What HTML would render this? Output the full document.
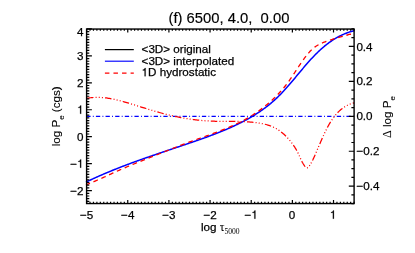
<!DOCTYPE html>
<html><head><meta charset="utf-8"><title>plot</title><style>html,body{margin:0;padding:0;background:#fff;width:415px;height:253px;overflow:hidden;font-family:"Liberation Sans",sans-serif}</style></head><body>
<svg width="415" height="253" viewBox="0 0 415 253" style="display:block;position:absolute;left:0;top:0;will-change:transform">
<rect width="415" height="253" fill="#fff"/>
<g fill="none" stroke-linecap="butt" stroke-linejoin="round">
<path d="M85.91 182.13L86.83 181.69L87.75 181.25L88.67 180.81L89.58 180.38L90.50 179.95L91.42 179.52L92.34 179.09L93.26 178.67L94.18 178.25L95.10 177.83L96.02 177.41L96.94 177.00L97.86 176.59L98.78 176.18L99.70 175.77L100.62 175.37L101.54 174.97L102.47 174.57L103.39 174.17L104.31 173.78L105.23 173.38L106.15 172.99L107.08 172.60L108.00 172.22L108.92 171.83L109.84 171.45L110.77 171.07L111.69 170.69L112.61 170.32L113.54 169.94L114.46 169.57L115.39 169.20L116.31 168.83L117.24 168.47L118.16 168.10L119.09 167.74L120.01 167.38L120.94 167.02L121.86 166.66L122.79 166.30L123.72 165.95L124.64 165.60L125.57 165.24L126.50 164.89L127.43 164.54L128.35 164.20L129.28 163.85L130.21 163.51L131.14 163.16L132.07 162.82L133.00 162.48L133.93 162.14L134.86 161.80L135.79 161.47L136.72 161.13L137.65 160.79L138.58 160.46L139.51 160.13L140.44 159.80L141.37 159.47L142.30 159.14L143.24 158.81L144.17 158.48L145.10 158.15L146.04 157.82L146.97 157.50L147.90 157.17L148.84 156.85L149.77 156.53L150.71 156.20L151.64 155.88L152.58 155.56L153.51 155.24L154.45 154.92L155.38 154.60L156.32 154.28L157.26 153.96L158.19 153.64L159.13 153.32L160.07 153.00L161.01 152.69L161.95 152.37L162.88 152.05L163.82 151.74L164.76 151.42L165.70 151.10L166.64 150.79L167.58 150.47L168.52 150.15L169.47 149.84L170.41 149.52L171.35 149.21L172.29 148.89L173.23 148.57L174.18 148.26L175.12 147.94L176.06 147.62L177.01 147.30L177.95 146.99L178.90 146.67L179.84 146.35L180.79 146.03L181.73 145.71L182.68 145.40L183.63 145.08L184.57 144.76L185.52 144.43L186.47 144.11L187.42 143.79L188.37 143.47L189.31 143.15L190.26 142.82L191.21 142.50L192.16 142.17L193.11 141.85L194.06 141.52L195.02 141.19L195.97 140.86L196.92 140.53L197.87 140.20L198.82 139.87L199.77 139.54L200.72 139.20L201.67 138.87L202.62 138.53L203.57 138.19L204.52 137.85L205.47 137.51L206.42 137.17L207.37 136.82L208.32 136.47L209.26 136.12L210.21 135.77L211.16 135.42L212.10 135.07L213.04 134.71L213.99 134.35L214.93 133.99L215.87 133.63L216.81 133.26L217.75 132.89L218.69 132.52L219.62 132.15L220.56 131.77L221.49 131.40L222.42 131.02L223.35 130.63L224.28 130.25L225.21 129.86L226.13 129.46L227.06 129.07L227.98 128.67L228.90 128.27L229.82 127.87L230.73 127.46L231.65 127.05L232.56 126.63L233.47 126.22L234.38 125.79L235.28 125.37L236.19 124.94L237.09 124.51L237.99 124.07L238.88 123.64L239.78 123.19L240.67 122.75L241.56 122.29L242.44 121.84L243.32 121.38L244.20 120.92L245.08 120.45L245.95 119.98L246.83 119.50L247.69 119.02L248.56 118.54L249.42 118.05L250.28 117.56L251.13 117.06L251.99 116.56L252.83 116.05L253.68 115.54L254.52 115.02L255.36 114.50L256.19 113.97L257.02 113.44L257.85 112.90L258.67 112.36L259.49 111.81L260.31 111.26L261.12 110.70L261.93 110.14L262.73 109.57L263.53 108.99L264.33 108.41L265.12 107.83L265.90 107.24L266.69 106.64L267.46 106.04L268.24 105.43L269.00 104.81L269.77 104.19L270.53 103.57L271.28 102.93L272.03 102.30L272.78 101.65L273.52 101.00L274.25 100.34L274.98 99.68L275.71 99.01L276.43 98.33L277.15 97.65L277.86 96.96L278.56 96.26L279.27 95.57L279.97 94.86L280.66 94.15L281.35 93.44L282.04 92.72L282.72 91.99L283.40 91.26L284.08 90.53L284.75 89.80L285.43 89.06L286.09 88.31L286.76 87.57L287.42 86.82L288.08 86.06L288.74 85.31L289.40 84.55L290.05 83.79L290.71 83.03L291.36 82.26L292.01 81.50L292.66 80.73L293.30 79.96L293.95 79.19L294.60 78.42L295.24 77.65L295.88 76.87L296.53 76.10L297.17 75.32L297.81 74.55L298.46 73.78L299.10 73.00L299.74 72.23L300.39 71.46L301.03 70.69L301.68 69.92L302.33 69.15L302.97 68.38L303.62 67.61L304.27 66.85L304.92 66.09L305.57 65.33L306.23 64.57L306.89 63.81L307.54 63.06L308.20 62.31L308.87 61.56L309.53 60.82L310.20 60.08L310.87 59.35L311.55 58.61L312.22 57.89L312.90 57.16L313.59 56.44L314.27 55.73L314.96 55.02L315.66 54.32L316.36 53.62L317.06 52.92L317.77 52.23L318.48 51.55L319.19 50.88L319.91 50.21L320.64 49.54L321.37 48.88L322.10 48.23L322.84 47.59L323.59 46.96L324.34 46.33L325.10 45.70L325.86 45.09L326.63 44.49L327.40 43.89L328.18 43.30L328.97 42.72L329.76 42.15L330.57 41.58L331.37 41.03L332.19 40.48L333.01 39.95L333.84 39.42L334.68 38.91L335.52 38.40L336.37 37.90L337.23 37.42L338.10 36.94L338.97 36.48L339.86 36.03L340.75 35.58L341.65 35.15L342.56 34.73L343.48 34.33L344.41 33.93L345.35 33.55L346.29 33.18L347.25 32.82L348.22 32.47L349.19 32.14L350.18 31.82L351.17 31.51L352.18 31.22L353.19 30.94L354.22 30.67" stroke="#00f" stroke-width="1.5"/>
<path d="M85.99 184.81L86.92 184.46L87.84 184.10L88.77 183.74L89.70 183.37L90.62 183.00L91.54 182.62L92.47 182.23L93.39 181.85L94.31 181.46L95.23 181.06L96.15 180.67L97.07 180.27L97.99 179.86L98.90 179.46L99.82 179.05L100.74 178.64L101.65 178.22L102.57 177.81L103.48 177.39L104.40 176.98L105.31 176.56L106.22 176.14L107.14 175.72L108.05 175.30L108.96 174.88L109.87 174.46L110.79 174.04L111.70 173.62L112.61 173.20L113.52 172.78L114.43 172.37L115.34 171.95L116.25 171.54L117.16 171.13L118.07 170.72L118.99 170.31L119.90 169.91L120.81 169.50L121.72 169.10L122.63 168.71L123.54 168.31L124.45 167.92L125.36 167.53L126.27 167.15L127.18 166.76L128.10 166.38L129.01 165.99L129.92 165.61L130.83 165.24L131.75 164.86L132.66 164.48L133.57 164.11L134.49 163.73L135.40 163.36L136.32 162.99L137.23 162.62L138.15 162.25L139.07 161.88L139.98 161.51L140.90 161.14L141.82 160.78L142.74 160.41L143.66 160.04L144.58 159.67L145.50 159.31L146.43 158.94L147.35 158.57L148.28 158.20L149.20 157.83L150.13 157.46L151.05 157.09L151.98 156.72L152.91 156.35L153.84 155.98L154.77 155.61L155.70 155.23L156.64 154.86L157.57 154.48L158.50 154.11L159.44 153.73L160.37 153.36L161.31 152.98L162.25 152.61L163.18 152.23L164.12 151.86L165.06 151.48L166.00 151.11L166.94 150.73L167.88 150.36L168.82 149.98L169.76 149.61L170.70 149.24L171.64 148.86L172.58 148.49L173.52 148.12L174.47 147.75L175.41 147.38L176.35 147.01L177.29 146.65L178.24 146.28L179.18 145.91L180.12 145.55L181.07 145.18L182.01 144.82L182.95 144.46L183.90 144.10L184.84 143.74L185.78 143.39L186.72 143.03L187.67 142.68L188.61 142.33L189.55 141.98L190.49 141.63L191.44 141.29L192.38 140.94L193.32 140.60L194.26 140.26L195.20 139.92L196.14 139.58L197.08 139.24L198.02 138.91L198.95 138.57L199.89 138.24L200.83 137.91L201.77 137.57L202.70 137.24L203.64 136.91L204.57 136.58L205.50 136.24L206.44 135.91L207.37 135.58L208.30 135.25L209.23 134.91L210.16 134.58L211.09 134.24L212.02 133.90L212.94 133.56L213.87 133.22L214.79 132.88L215.72 132.54L216.64 132.20L217.56 131.85L218.48 131.50L219.40 131.15L220.32 130.79L221.24 130.44L222.15 130.08L223.07 129.72L223.98 129.35L224.89 128.98L225.80 128.61L226.71 128.24L227.62 127.86L228.52 127.48L229.43 127.09L230.33 126.70L231.23 126.31L232.13 125.91L233.03 125.51L233.92 125.10L234.82 124.69L235.71 124.27L236.60 123.85L237.49 123.42L238.38 122.99L239.26 122.56L240.15 122.11L241.03 121.66L241.91 121.21L242.79 120.75L243.66 120.28L244.54 119.81L245.41 119.33L246.28 118.84L247.15 118.35L248.01 117.85L248.88 117.34L249.74 116.83L250.60 116.31L251.45 115.78L252.31 115.24L253.16 114.70L254.01 114.15L254.86 113.59L255.70 113.03L256.54 112.46L257.38 111.88L258.21 111.29L259.04 110.70L259.87 110.10L260.69 109.50L261.51 108.89L262.33 108.27L263.14 107.65L263.94 107.02L264.75 106.38L265.54 105.74L266.34 105.09L267.13 104.44L267.91 103.78L268.69 103.12L269.46 102.45L270.23 101.77L270.99 101.09L271.74 100.40L272.49 99.71L273.24 99.02L273.97 98.32L274.71 97.61L275.43 96.90L276.15 96.19L276.86 95.47L277.57 94.74L278.26 94.02L278.96 93.28L279.64 92.55L280.32 91.81L280.98 91.06L281.65 90.31L282.30 89.56L282.94 88.80L283.58 88.05L284.21 87.28L284.83 86.52L285.44 85.75L286.05 84.97L286.64 84.20L287.23 83.42L287.81 82.63L288.38 81.85L288.95 81.06L289.51 80.27L290.07 79.48L290.62 78.68L291.17 77.88L291.71 77.08L292.25 76.28L292.79 75.48L293.33 74.67L293.86 73.86L294.40 73.05L294.93 72.24L295.47 71.42L296.00 70.61L296.54 69.79L297.07 68.97L297.61 68.15L298.15 67.33L298.70 66.51L299.25 65.68L299.80 64.86L300.36 64.04L300.92 63.21L301.49 62.38L302.06 61.56L302.64 60.73L303.23 59.90L303.83 59.07L304.43 58.24L305.05 57.42L305.67 56.59L306.30 55.77L306.95 54.95L307.60 54.14L308.26 53.35L308.94 52.57L309.62 51.81L310.32 51.07L311.03 50.35L311.76 49.66L312.49 48.99L313.24 48.35L314.01 47.73L314.79 47.14L315.58 46.57L316.38 46.03L317.21 45.51L318.04 45.02L318.89 44.55L319.76 44.10L320.64 43.67L321.52 43.25L322.42 42.86L323.33 42.48L324.25 42.12L325.18 41.77L326.12 41.42L327.06 41.09L328.01 40.77L328.97 40.46L329.93 40.15L330.89 39.84L331.86 39.54L332.83 39.24L333.80 38.94L334.78 38.64L335.75 38.34L336.73 38.05L337.71 37.75L338.68 37.46L339.66 37.17L340.64 36.89L341.61 36.61L342.59 36.33L343.56 36.05L344.53 35.78L345.49 35.52L346.46 35.25L347.42 35.00L348.38 34.74L349.33 34.49L350.28 34.25L351.22 34.01L352.16 33.78L353.09 33.55L354.02 33.33" stroke="#f00" stroke-width="1.3" stroke-dashoffset="0.5" stroke-dasharray="4.75 3.81"/>
<path d="M86.60 116.45H354.10" stroke="#00f" stroke-width="1.25" stroke-dashoffset="0.33" stroke-dasharray="4.3 2.25 0.9 2.185"/>
<path d="M86.51 98.36L87.53 98.18L88.54 98.02L89.56 97.87L90.57 97.75L91.58 97.64L92.59 97.56L93.59 97.49L94.60 97.43L95.60 97.40L96.60 97.38L97.60 97.38L98.59 97.39L99.59 97.41L100.58 97.46L101.57 97.51L102.56 97.58L103.54 97.67L104.53 97.76L105.51 97.87L106.50 97.99L107.48 98.13L108.46 98.27L109.43 98.43L110.41 98.59L111.38 98.77L112.36 98.96L113.33 99.15L114.30 99.36L115.27 99.57L116.24 99.79L117.21 100.02L118.17 100.25L119.14 100.50L120.10 100.74L121.07 101.00L122.03 101.26L122.99 101.52L123.95 101.79L124.91 102.07L125.87 102.35L126.83 102.63L127.79 102.91L128.74 103.20L129.70 103.49L130.66 103.78L131.61 104.07L132.57 104.36L133.52 104.66L134.48 104.95L135.43 105.25L136.38 105.55L137.34 105.84L138.29 106.14L139.24 106.44L140.20 106.73L141.15 107.03L142.10 107.33L143.05 107.62L144.01 107.92L144.96 108.22L145.91 108.51L146.86 108.80L147.82 109.10L148.77 109.39L149.73 109.68L150.68 109.97L151.63 110.25L152.59 110.54L153.54 110.82L154.50 111.11L155.46 111.39L156.41 111.66L157.37 111.94L158.33 112.21L159.29 112.48L160.25 112.75L161.21 113.01L162.17 113.27L163.13 113.53L164.09 113.79L165.05 114.04L166.02 114.29L166.98 114.53L167.95 114.77L168.92 115.01L169.89 115.24L170.86 115.47L171.83 115.69L172.80 115.91L173.77 116.13L174.75 116.34L175.72 116.55L176.70 116.75L177.68 116.95L178.66 117.15L179.63 117.34L180.61 117.53L181.60 117.71L182.58 117.89L183.56 118.06L184.54 118.23L185.53 118.39L186.51 118.56L187.50 118.71L188.48 118.86L189.47 119.01L190.46 119.16L191.44 119.29L192.43 119.43L193.42 119.56L194.41 119.68L195.40 119.81L196.39 119.92L197.38 120.03L198.37 120.14L199.37 120.25L200.36 120.34L201.35 120.44L202.34 120.53L203.34 120.61L204.33 120.69L205.32 120.77L206.32 120.84L207.31 120.91L208.31 120.97L209.30 121.02L210.30 121.08L211.29 121.12L212.29 121.17L213.28 121.21L214.28 121.24L215.27 121.27L216.27 121.29L217.26 121.31L218.26 121.33L219.25 121.35L220.25 121.36L221.24 121.37L222.24 121.38L223.23 121.38L224.23 121.39L225.22 121.39L226.22 121.39L227.22 121.39L228.21 121.40L229.21 121.40L230.20 121.40L231.20 121.40L232.19 121.41L233.19 121.41L234.19 121.42L235.18 121.43L236.18 121.44L237.17 121.45L238.17 121.47L239.17 121.49L240.16 121.51L241.16 121.54L242.15 121.57L243.15 121.61L244.15 121.65L245.14 121.69L246.14 121.75L247.13 121.80L248.13 121.87L249.13 121.94L250.12 122.01L251.12 122.10L252.11 122.19L253.11 122.29L254.11 122.40L255.10 122.51L256.10 122.64L257.09 122.77L258.09 122.91L259.08 123.07L260.08 123.23L261.06 123.41L262.05 123.60L263.03 123.80L264.01 124.02L264.98 124.25L265.95 124.50L266.91 124.77L267.86 125.05L268.81 125.36L269.74 125.68L270.67 126.02L271.59 126.38L272.49 126.76L273.39 127.17L274.28 127.60L275.15 128.05L276.01 128.52L276.86 129.01L277.70 129.53L278.52 130.06L279.34 130.62L280.14 131.19L280.94 131.78L281.72 132.40L282.49 133.02L283.25 133.67L283.99 134.33L284.73 135.00L285.45 135.70L286.17 136.40L286.87 137.12L287.56 137.85L288.24 138.60L288.91 139.36L289.57 140.13L290.22 140.90L290.85 141.69L291.48 142.49L292.09 143.30L292.68 144.12L293.26 144.94L293.83 145.78L294.39 146.62L294.93 147.46L295.45 148.31L295.96 149.17L296.45 150.03L296.93 150.89L297.39 151.76L297.83 152.63L298.26 153.50L298.67 154.37L299.06 155.24L299.45 156.12L299.83 157.00L300.22 157.88L300.61 158.77L301.01 159.66L301.44 160.56L301.89 161.46L302.37 162.37L302.89 163.28L303.45 164.21L304.06 165.14L304.71 166.05L305.40 166.86L306.11 167.48L306.82 167.82L307.52 167.79L308.18 167.38L308.81 166.69L309.41 165.84L309.99 164.96L310.54 164.05L311.06 163.15L311.57 162.24L312.05 161.33L312.52 160.43L312.97 159.53L313.40 158.62L313.83 157.72L314.24 156.82L314.64 155.92L315.04 155.02L315.43 154.11L315.81 153.21L316.20 152.30L316.59 151.40L316.97 150.49L317.36 149.57L317.75 148.66L318.14 147.74L318.53 146.83L318.92 145.91L319.32 144.99L319.71 144.07L320.11 143.15L320.51 142.23L320.91 141.32L321.31 140.40L321.72 139.48L322.12 138.57L322.53 137.65L322.94 136.74L323.36 135.83L323.78 134.92L324.20 134.02L324.62 133.11L325.04 132.21L325.48 131.32L325.91 130.42L326.36 129.53L326.80 128.65L327.26 127.77L327.72 126.89L328.20 126.02L328.68 125.15L329.17 124.29L329.67 123.44L330.18 122.59L330.70 121.75L331.24 120.91L331.78 120.08L332.34 119.26L332.91 118.44L333.50 117.63L334.10 116.83L334.72 116.04L335.35 115.27L335.99 114.50L336.65 113.75L337.33 113.01L338.01 112.29L338.72 111.59L339.44 110.90L340.17 110.23L340.92 109.58L341.69 108.95L342.47 108.34L343.27 107.76L344.08 107.20L344.92 106.66L345.76 106.15L346.63 105.66L347.51 105.21L348.41 104.78L349.32 104.38L350.26 104.01L351.21 103.68L352.18 103.37L353.16 103.10L354.17 102.87" stroke="#f00" stroke-width="1.25" stroke-dashoffset="17.6" stroke-dasharray="6.5 2.15 1 2.15 1 2.15 1 2.15"/>
</g>
<path d="M86.60 203.55v-3.50M86.60 29.05v3.50M90.03 203.55v-1.75M90.03 29.05v1.75M93.46 203.55v-1.75M93.46 29.05v1.75M96.89 203.55v-1.75M96.89 29.05v1.75M100.32 203.55v-1.75M100.32 29.05v1.75M103.75 203.55v-1.75M103.75 29.05v1.75M107.18 203.55v-1.75M107.18 29.05v1.75M110.61 203.55v-1.75M110.61 29.05v1.75M114.04 203.55v-1.75M114.04 29.05v1.75M117.47 203.55v-1.75M117.47 29.05v1.75M120.89 203.55v-1.75M120.89 29.05v1.75M124.32 203.55v-1.75M124.32 29.05v1.75M127.75 203.55v-3.50M127.75 29.05v3.50M131.18 203.55v-1.75M131.18 29.05v1.75M134.61 203.55v-1.75M134.61 29.05v1.75M138.04 203.55v-1.75M138.04 29.05v1.75M141.47 203.55v-1.75M141.47 29.05v1.75M144.90 203.55v-1.75M144.90 29.05v1.75M148.33 203.55v-1.75M148.33 29.05v1.75M151.76 203.55v-1.75M151.76 29.05v1.75M155.19 203.55v-1.75M155.19 29.05v1.75M158.62 203.55v-1.75M158.62 29.05v1.75M162.05 203.55v-1.75M162.05 29.05v1.75M165.48 203.55v-1.75M165.48 29.05v1.75M168.91 203.55v-3.50M168.91 29.05v3.50M172.34 203.55v-1.75M172.34 29.05v1.75M175.77 203.55v-1.75M175.77 29.05v1.75M179.20 203.55v-1.75M179.20 29.05v1.75M182.63 203.55v-1.75M182.63 29.05v1.75M186.06 203.55v-1.75M186.06 29.05v1.75M189.48 203.55v-1.75M189.48 29.05v1.75M192.91 203.55v-1.75M192.91 29.05v1.75M196.34 203.55v-1.75M196.34 29.05v1.75M199.77 203.55v-1.75M199.77 29.05v1.75M203.20 203.55v-1.75M203.20 29.05v1.75M206.63 203.55v-1.75M206.63 29.05v1.75M210.06 203.55v-3.50M210.06 29.05v3.50M213.49 203.55v-1.75M213.49 29.05v1.75M216.92 203.55v-1.75M216.92 29.05v1.75M220.35 203.55v-1.75M220.35 29.05v1.75M223.78 203.55v-1.75M223.78 29.05v1.75M227.21 203.55v-1.75M227.21 29.05v1.75M230.64 203.55v-1.75M230.64 29.05v1.75M234.07 203.55v-1.75M234.07 29.05v1.75M237.50 203.55v-1.75M237.50 29.05v1.75M240.93 203.55v-1.75M240.93 29.05v1.75M244.36 203.55v-1.75M244.36 29.05v1.75M247.79 203.55v-1.75M247.79 29.05v1.75M251.22 203.55v-3.50M251.22 29.05v3.50M254.64 203.55v-1.75M254.64 29.05v1.75M258.07 203.55v-1.75M258.07 29.05v1.75M261.50 203.55v-1.75M261.50 29.05v1.75M264.93 203.55v-1.75M264.93 29.05v1.75M268.36 203.55v-1.75M268.36 29.05v1.75M271.79 203.55v-1.75M271.79 29.05v1.75M275.22 203.55v-1.75M275.22 29.05v1.75M278.65 203.55v-1.75M278.65 29.05v1.75M282.08 203.55v-1.75M282.08 29.05v1.75M285.51 203.55v-1.75M285.51 29.05v1.75M288.94 203.55v-1.75M288.94 29.05v1.75M292.37 203.55v-3.50M292.37 29.05v3.50M295.80 203.55v-1.75M295.80 29.05v1.75M299.23 203.55v-1.75M299.23 29.05v1.75M302.66 203.55v-1.75M302.66 29.05v1.75M306.09 203.55v-1.75M306.09 29.05v1.75M309.52 203.55v-1.75M309.52 29.05v1.75M312.95 203.55v-1.75M312.95 29.05v1.75M316.38 203.55v-1.75M316.38 29.05v1.75M319.81 203.55v-1.75M319.81 29.05v1.75M323.23 203.55v-1.75M323.23 29.05v1.75M326.66 203.55v-1.75M326.66 29.05v1.75M330.09 203.55v-1.75M330.09 29.05v1.75M333.52 203.55v-3.50M333.52 29.05v3.50M336.95 203.55v-1.75M336.95 29.05v1.75M340.38 203.55v-1.75M340.38 29.05v1.75M343.81 203.55v-1.75M343.81 29.05v1.75M347.24 203.55v-1.75M347.24 29.05v1.75M350.67 203.55v-1.75M350.67 29.05v1.75M354.10 203.55v-1.75M354.10 29.05v1.75M86.60 201.38h2.70M86.60 198.69h2.70M86.60 195.99h2.70M86.60 193.29h2.70M86.60 190.60h5.30M86.60 187.91h2.70M86.60 185.21h2.70M86.60 182.51h2.70M86.60 179.82h2.70M86.60 177.12h2.70M86.60 174.43h2.70M86.60 171.73h2.70M86.60 169.04h2.70M86.60 166.34h2.70M86.60 163.65h5.30M86.60 160.96h2.70M86.60 158.26h2.70M86.60 155.56h2.70M86.60 152.87h2.70M86.60 150.17h2.70M86.60 147.48h2.70M86.60 144.78h2.70M86.60 142.09h2.70M86.60 139.39h2.70M86.60 136.70h5.30M86.60 134.00h2.70M86.60 131.31h2.70M86.60 128.61h2.70M86.60 125.92h2.70M86.60 123.22h2.70M86.60 120.53h2.70M86.60 117.83h2.70M86.60 115.14h2.70M86.60 112.44h2.70M86.60 109.75h5.30M86.60 107.06h2.70M86.60 104.36h2.70M86.60 101.66h2.70M86.60 98.97h2.70M86.60 96.27h2.70M86.60 93.58h2.70M86.60 90.88h2.70M86.60 88.19h2.70M86.60 85.50h2.70M86.60 82.80h5.30M86.60 80.10h2.70M86.60 77.41h2.70M86.60 74.71h2.70M86.60 72.02h2.70M86.60 69.32h2.70M86.60 66.63h2.70M86.60 63.93h2.70M86.60 61.24h2.70M86.60 58.54h2.70M86.60 55.85h5.30M86.60 53.15h2.70M86.60 50.46h2.70M86.60 47.76h2.70M86.60 45.07h2.70M86.60 42.37h2.70M86.60 39.68h2.70M86.60 36.98h2.70M86.60 34.29h2.70M86.60 31.59h2.70M86.60 28.90h5.30M354.10 203.65h-2.70M354.10 194.91h-2.70M354.10 186.18h-5.30M354.10 177.44h-2.70M354.10 168.71h-2.70M354.10 159.97h-2.70M354.10 151.24h-5.30M354.10 142.50h-2.70M354.10 133.77h-2.70M354.10 125.03h-2.70M354.10 116.30h-5.30M354.10 107.56h-2.70M354.10 98.83h-2.70M354.10 90.09h-2.70M354.10 81.36h-5.30M354.10 72.62h-2.70M354.10 63.89h-2.70M354.10 55.15h-2.70M354.10 46.42h-5.30M354.10 37.68h-2.70M354.10 28.95h-2.70" stroke="#000" stroke-width="1.2" fill="none"/>
<rect x="86.60" y="29.05" width="267.50" height="174.50" fill="none" stroke="#000" stroke-width="1.4"/>
<path d="M104.9 49.6H133.8" stroke="#000" stroke-width="1.25"/>
<path d="M104.9 61.2H133.8" stroke="#00f" stroke-width="1.15"/>
<path d="M104.9 73.1H133.8" stroke="#f00" stroke-width="1.25" stroke-dasharray="4.5 4.06"/>
<g font-family="Liberation Sans, sans-serif" font-size="11.65" fill="#000" stroke="#000" stroke-width="0.25">
<text x="141.6" y="53.2">&lt;3D&gt; original</text>
<text x="141.6" y="64.8">&lt;3D&gt; interpolated</text>
<path d="M144.58,76.30 L144.58,70.42 L142.78,70.42 L142.78,69.68 C143.81,69.64 144.51,69.08 144.79,68.04 L145.63,68.04 L145.63,76.30 Z" fill="#000" stroke="#000" stroke-width="0.2"/><text x="148.08" y="76.3">D hydrostatic</text>
<text x="168.5" y="23" font-size="14.8" stroke-width="0.15" xml:space="preserve">(f) 6500, 4.0,  0.00</text>
<text x="79.96" y="218.70">−5</text>
<text x="121.11" y="218.70">−4</text>
<text x="162.27" y="218.70">−3</text>
<text x="203.42" y="218.70">−2</text>
<text x="244.57" y="218.70">−</text><path d="M254.36,218.70 L254.36,212.82 L252.56,212.82 L252.56,212.08 C253.59,212.04 254.29,211.48 254.57,210.44 L255.41,210.44 L255.41,218.70 Z" fill="#000" stroke="#000" stroke-width="0.2"/>
<text x="288.73" y="218.70">0</text>
<path d="M332.87,218.70 L332.87,212.82 L331.06,212.82 L331.06,212.08 C332.10,212.04 332.80,211.48 333.08,210.44 L333.92,210.44 L333.92,218.70 Z" fill="#000" stroke="#000" stroke-width="0.2"/>
<text x="70.32" y="194.60">−2</text>
<text x="70.32" y="167.65">−</text><path d="M80.10,167.65 L80.10,161.77 L78.30,161.77 L78.30,161.03 C79.34,160.99 80.04,160.43 80.31,159.39 L81.15,159.39 L81.15,167.65 Z" fill="#000" stroke="#000" stroke-width="0.2"/>
<text x="77.12" y="140.70">0</text>
<path d="M80.10,113.75 L80.10,107.87 L78.30,107.87 L78.30,107.13 C79.34,107.09 80.04,106.53 80.31,105.49 L81.15,105.49 L81.15,113.75 Z" fill="#000" stroke="#000" stroke-width="0.2"/>
<text x="77.12" y="86.80">2</text>
<text x="77.12" y="59.85">3</text>
<text x="77.12" y="36.00">4</text>
<text x="356.4" y="50.52">0.4</text>
<text x="356.4" y="85.46">0.2</text>
<text x="356.4" y="120.40">0.0</text>
<text x="356.4" y="155.34">−0.2</text>
<text x="356.4" y="190.28">−0.4</text>
<text x="201" y="231">log <tspan font-family="Liberation Serif, serif" stroke-width="0.1">τ</tspan><tspan font-family="Liberation Serif, serif" font-size="7.6" dy="2.5" stroke="none">5000</tspan></text>
<text transform="translate(60.3 116.3) rotate(-90)" text-anchor="middle" stroke-width="0.1">log P<tspan font-size="8" dy="3.6">e</tspan><tspan dy="-3.6"> (cgs)</tspan></text>
<text transform="translate(391.2 117) rotate(-90)" text-anchor="middle" stroke-width="0.1"><tspan font-family="Liberation Serif, serif" font-size="12">Δ</tspan> log P<tspan font-size="8" dy="3.6">e</tspan></text>
</g>
</svg>
</body></html>
